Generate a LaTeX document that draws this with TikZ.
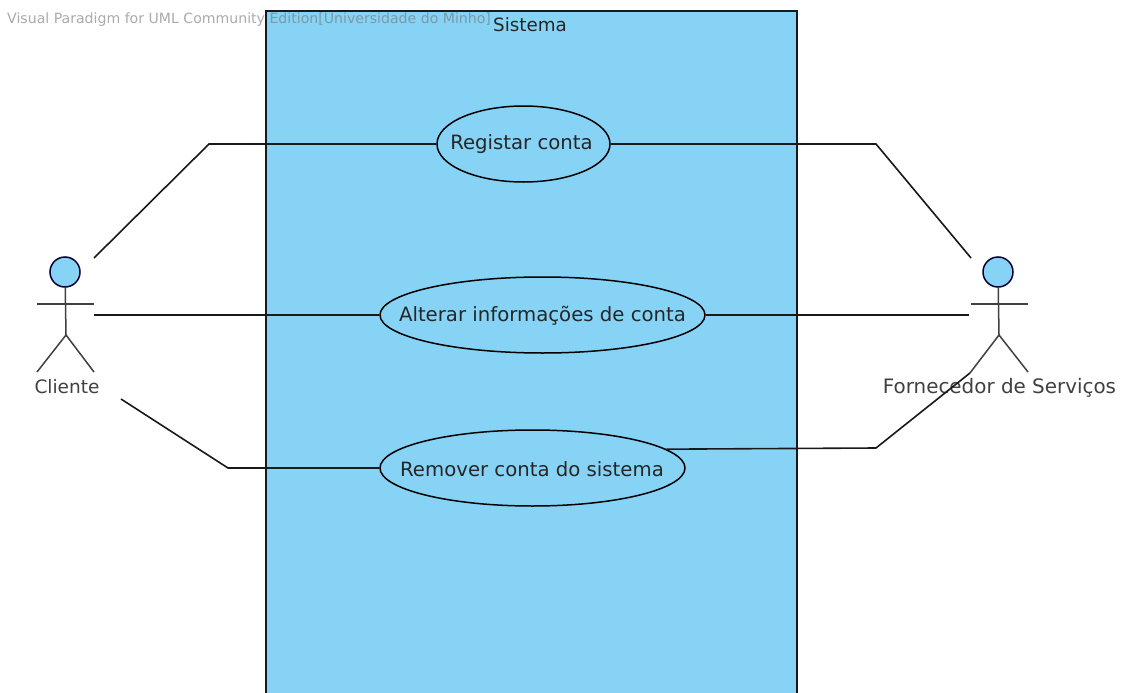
\documentclass[tikz,border=0pt]{standalone}
\usepackage{fontspec}
\setmainfont{DejaVu Sans}
\usetikzlibrary{shapes.geometric}
\definecolor{sysblue}{RGB}{135,211,245}
\tikzset{
  every node/.style={font=\fontsize{19.7}{22}\selectfont, text=black!85},
  usecase/.style={ellipse, draw=black, line width=1.5pt, fill=sysblue, inner sep=0pt, minimum height=76, text=black!85},
  conn/.style={draw=black!90, line width=1.6pt},
  stick/.style={draw=black!75, line width=1.5pt},
  head/.style={circle, draw=black!80!blue, line width=1.5pt, fill=sysblue, minimum size=30, inner sep=0pt},
  actorlabel/.style={inner sep=0pt, text=black!75},
}
\begin{document}
\begin{tikzpicture}[x=1pt,y=-1pt]
\useasboundingbox (0,0) rectangle (1122,693);
\fill[white] (0,0) rectangle (1122,693);
\begin{scope}
\clip (0,0) rectangle (1122,693);
\fill[sysblue] (266,11) rectangle (797,700);
\draw[black!90, line width=1.6pt] (266,700) -- (266,11) -- (797,11) -- (797,700);
\end{scope}
\node[anchor=west, inner sep=0pt, font=\fontsize{14.1}{16}\selectfont, text=black!55, text opacity=0.6] (wm) at (7,20) {Visual Paradigm for UML Community Edition[Universidade do Minho]};
\node[inner sep=0pt, fill=sysblue, font=\fontsize{18.3}{22}\selectfont, text=black!85] (sistema) at (530,25) {Sistema};

\node[usecase, minimum width=173] (uc1) at (523.5,144) {};
\node[usecase, minimum width=325] (uc2) at (542.5,315) {};
\node[usecase, minimum width=305] (uc3) at (532.5,468) {};
\node[inner sep=0pt] (t1) at (521.5,144) {Registar conta};
\node[inner sep=0pt] (t2) at (542.5,316) {Alterar informações de conta};
\node[inner sep=0pt] (t3) at (532,469) {Remover conta do sistema};

% Cliente
\node[head] (h1) at (65,272) {};
\coordinate (a1l) at (37,304);
\coordinate (a1r) at (94,304);
\coordinate (b1) at (66,335);
\coordinate (fl1) at (37,372);
\coordinate (fr1) at (94,372);
\draw[stick] (h1) -- (b1);
\draw[stick] (a1l) -- (a1r);
\draw[stick] (fl1) -- (b1) -- (fr1);
\node[actorlabel, font=\fontsize{18.5}{22}\selectfont] (cliente) at (67,387) {Cliente};

% Fornecedor
\node[head] (h2) at (998,272) {};
\coordinate (a2l) at (971,304);
\coordinate (a2r) at (1028,304);
\coordinate (b2) at (999,335);
\coordinate (fl2) at (970,373);
\coordinate (fr2) at (1028,372);
\draw[stick] (h2) -- (b2);
\draw[stick] (a2l) -- (a2r);
\draw[stick] (fl2) -- (b2) -- (fr2);
\node[actorlabel, font=\fontsize{19.9}{22}\selectfont] (forn) at (999.5,388) {Fornecedor de Serviços};

% connectors
\coordinate (c1) at (94,258);
\coordinate (c2) at (94,315);
\coordinate (c3) at (121,399);
\coordinate (f1) at (971,258);
\coordinate (f2) at (969,315);
\coordinate (f3) at (970,373);
\draw[conn] (c1) -- (209,144) -- (uc1.west);
\draw[conn] (uc1.east) -- (876,144) -- (f1);
\draw[conn] (c2) -- (uc2.west);
\draw[conn] (uc2.east) -- (f2);
\draw[conn] (c3) -- (228,468) -- (uc3.west);
\draw[conn] (uc3.8.8) -- (876,448) -- (f3);
\end{tikzpicture}
\end{document}
